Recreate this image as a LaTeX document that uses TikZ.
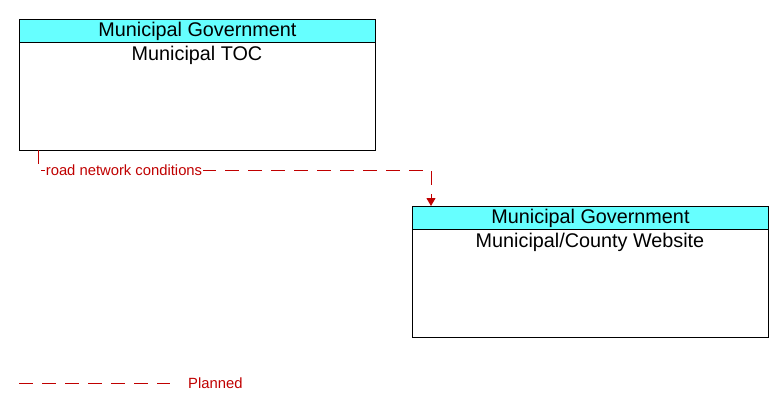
\documentclass[tikz,border=0pt]{standalone}
\usepackage{fontspec}
\setmainfont{Liberation Sans}
\usetikzlibrary{arrows.meta}
\definecolor{hdr}{RGB}{102,255,255}
\definecolor{plan}{RGB}{192,0,0}
\tikzset{
  body/.style={draw=black, line width=1pt, fill=white, minimum width=356pt, minimum height=131pt, anchor=north west, inner sep=0pt},
  header/.style={draw=black, line width=1pt, fill=hdr, minimum width=356pt, minimum height=23pt, anchor=north west, inner sep=0pt, font=\fontsize{19.8}{21}\selectfont},
  title/.style={font=\fontsize{19.8}{21}\selectfont, inner sep=0pt},
  planned/.style={draw=plan, line width=1pt, dash pattern=on 14pt off 9pt},
  flowlabel/.style={text=plan, fill=white, inner sep=1pt, font=\fontsize{14.8}{16}\selectfont},
}
\begin{document}
\begin{tikzpicture}[x=1pt,y=-1pt]
\useasboundingbox (0,0) rectangle (783,412);
% box 1
\node[body] (toc) at (19,19) {};
\node[header] (tochdr) at (19,19) {Municipal Government};
\node[title] (toctitle) at (197,55) {Municipal TOC};
% box 2
\node[body] (web) at (412,206) {};
\node[header] (webhdr) at (412,206) {Municipal Government};
\node[title] (webtitle) at (590,242) {Municipal/County Website};
% connector
\coordinate (s) at (38,150);
\coordinate (a) at (38,170);
\coordinate (b) at (431,170);
\coordinate (e) at (431,206);
\draw[planned, -{Triangle[width=9pt,length=8pt]}] (s) -- (a) -- (b) -- (e);
\node[flowlabel] (lbl) at (124,170) {road network conditions};
% legend
\coordinate (l1) at (19,383);
\coordinate (l2) at (170,383);
\draw[planned] (l1) -- (l2);
\node[text=plan, anchor=west, inner sep=0pt, font=\fontsize{14.8}{16}\selectfont] (leg) at (188,383) {Planned};
\end{tikzpicture}
\end{document}
